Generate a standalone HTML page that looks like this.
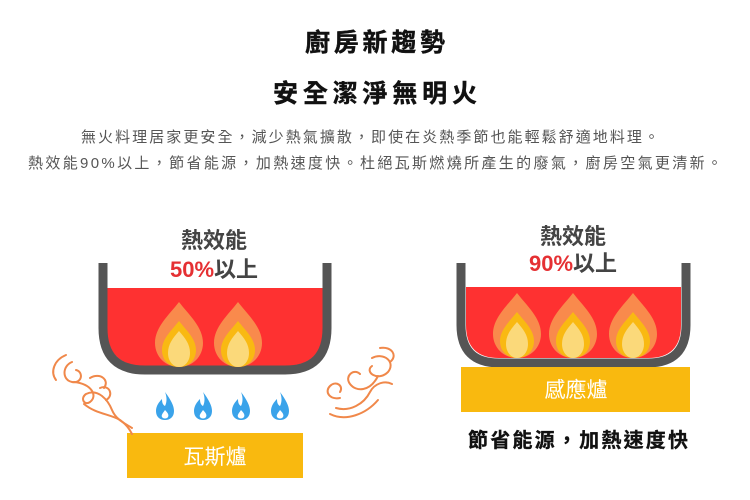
<!DOCTYPE html>
<html><head><meta charset="utf-8"><style>
html,body{margin:0;padding:0;background:#fff;}
svg{display:block}
text{font-family:"Liberation Sans","Noto Sans CJK TC",sans-serif;}
</style></head><body>
<svg width="750" height="500" viewBox="0 0 750 500" xmlns="http://www.w3.org/2000/svg">
<defs>
<g id="flame">
  <path d="M0,-33 C10,-20 24,-8 24,8 C24,22 13,32 0,32 C-13,32 -24,22 -24,8 C-24,-8 -10,-20 0,-33Z" fill="#f98a4c"/>
  <path d="M0,-14 C8,-4 17,4 17,15 C17,26 9,32 0,32 C-9,32 -17,26 -17,15 C-17,4 -8,-4 0,-14Z" fill="#f9b912"/>
  <path d="M0,-4 C6,3 11,9 11,18 C11,26 6,32 0,32 C-6,32 -11,26 -11,18 C-11,9 -6,3 0,-4Z" fill="#fbd97a"/>
</g>
<g id="blue">
  <path d="M0,-14 C6,-6 9,0 9,5 C9,11 5,14 0,14 C-5,14 -9,11 -9,5 C-9,0 -6,-4 -3,-7 C-3,-3 -2,-1 0,0 C2,-4 2,-9 0,-14Z" fill="#3aa3ea"/>
  <path d="M0,4 C3,7 4,9 3,11 C2,13 -2,13 -3,11 C-4,9 -2,7 0,4Z" fill="#fff"/>
</g>
</defs>
<text x="375" y="51" text-anchor="middle" font-size="25" font-weight="bold" fill="#111" stroke="#111" stroke-width="0.4" textLength="140">廚房新趨勢</text>
<text x="375" y="102" text-anchor="middle" font-size="25" font-weight="bold" fill="#111" stroke="#111" stroke-width="0.4" textLength="204">安全潔淨無明火</text>
<text x="370" y="142" text-anchor="middle" font-size="15" fill="#555" textLength="578">無火料理居家更安全，減少熱氣擴散，即使在炎熱季節也能輕鬆舒適地料理。</text>
<text x="375" y="168" text-anchor="middle" font-size="15" fill="#555" textLength="694">熱效能90%以上，節省能源，加熱速度快。杜絕瓦斯燃燒所產生的廢氣，廚房空氣更清新。</text>

<!-- left pot -->
<text x="214" y="248" text-anchor="middle" font-size="22" font-weight="bold" fill="#444">熱效能</text>
<text x="214" y="277" text-anchor="middle" font-size="22" font-weight="bold" fill="#444"><tspan fill="#e53033">50%</tspan>以上</text>
<path d="M107,288 H323 V328 Q323,366 285,366 H145 Q107,366 107,328Z" fill="#fe3131"/>
<path d="M103,263 V328 Q103,370 145,370 H285 Q327,370 327,328 V263" fill="none" stroke="#555" stroke-width="9"/>
<use href="#flame" x="179" y="335"/>
<use href="#flame" x="238" y="335"/>
<use href="#blue" x="165" y="406"/>
<use href="#blue" x="203" y="406"/>
<use href="#blue" x="241" y="406"/>
<use href="#blue" x="280" y="406"/>
<rect x="127" y="433" width="176" height="45" fill="#f9b90f"/>
<text x="215" y="464" text-anchor="middle" font-size="21" fill="#fff">瓦斯爐</text>
<g fill="none" stroke="#f0884a" stroke-width="2" stroke-linecap="round">
  <path d="M66,355 C54,360 50,372 56,380"/>
  <path d="M72,362 C62,366 62,380 72,382 C82,384 84,372 76,370"/>
  <path d="M74,382 C92,384 98,396 90,402 C84,406 80,398 86,394 C98,388 108,400 112,410 C116,420 126,424 132,428"/>
  <path d="M84,404 C96,414 110,414 120,420 C126,424 130,430 132,434"/>
  <path d="M90,378 C100,372 110,380 104,388"/>
  <path d="M100,388 C110,384 114,396 106,400"/>
  <path d="M380,348 C392,346 398,356 390,362"/>
  <path d="M372,358 C384,352 396,362 388,372 C378,382 364,372 372,366"/>
  <path d="M378,376 C370,392 356,392 350,384 C344,376 354,368 360,374"/>
  <path d="M340,398 C330,400 324,392 330,386 C336,380 344,386 340,392"/>
  <path d="M336,408 C350,412 364,404 370,392 C374,384 384,380 392,384"/>
  <path d="M330,414 C346,422 366,414 378,400"/>
</g>

<!-- right pot -->
<text x="573" y="244" text-anchor="middle" font-size="22" font-weight="bold" fill="#444">熱效能</text>
<text x="573" y="271" text-anchor="middle" font-size="22" font-weight="bold" fill="#444"><tspan fill="#e53033">90%</tspan>以上</text>
<path d="M466,287 H681 V325 Q681,358 648,358 H499 Q466,358 466,325Z" fill="#fe3131"/>
<path d="M461,263 V325 Q461,363 499,363 H648 Q686,363 686,325 V263" fill="none" stroke="#555" stroke-width="9"/>
<use href="#flame" x="517" y="326"/>
<use href="#flame" x="573" y="326"/>
<use href="#flame" x="633" y="326"/>
<rect x="461" y="367" width="229" height="45" fill="#f9b90f"/>
<text x="576" y="397" text-anchor="middle" font-size="21" fill="#fff">感應爐</text>
<text x="578" y="447" text-anchor="middle" font-size="20" font-weight="bold" fill="#111" stroke="#111" stroke-width="0.3" textLength="220">節省能源，加熱速度快</text>
</svg>
</body></html>
